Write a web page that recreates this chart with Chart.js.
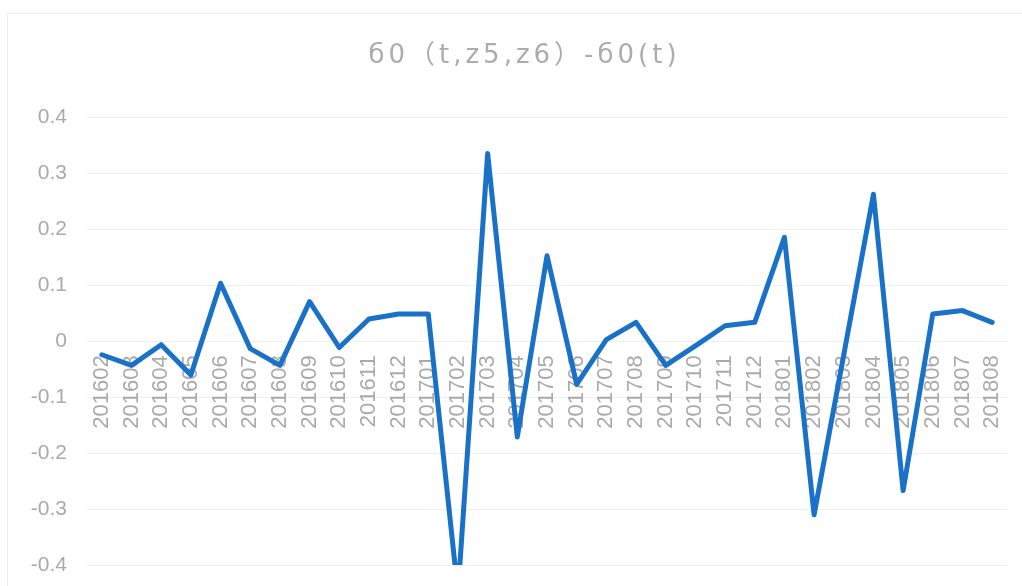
<!DOCTYPE html>
<html>
<head>
<meta charset="utf-8">
<script src="https://cdn.jsdelivr.net/npm/chart.js@4/dist/chart.umd.min.js"></script>
<style>
  html, body { margin: 0; padding: 0; background: #ffffff; overflow: hidden; width: 1022px; height: 586px; }
  #box { position: absolute; left: 7px; top: 13px; width: 1030px; height: 620px; border: 1px solid #ececec; background: #fff; }
  #c { display: block; }
</style>
</head>
<body>
<div id="box"><canvas id="c" width="1030" height="620"></canvas></div>
<script>
const titleText = "б0（t,z5,z6）-б0(t)";
const categories = [
  "201602","201603","201604","201605","201606","201607","201608","201609","201610","201611","201612",
  "201701","201702","201703","201704","201705","201706","201707","201708","201709","201710","201711","201712",
  "201801","201802","201803","201804","201805","201806","201807","201808"
];
const seriesValues = [
  -0.024, -0.043, -0.006, -0.060, 0.104, -0.013, -0.043, 0.071, -0.011, 0.040, 0.049,
  0.049, -0.45, 0.336, -0.171, 0.153, -0.077, 0.003, 0.034, -0.043, -0.008, 0.028, 0.034,
  0.186, -0.310, -0.024, 0.263, -0.267, 0.049, 0.055, 0.034
];
const yMin = -0.4, yMax = 0.4, yStep = 0.1;

const textColor = "#aaaaaa";
const gridColor = "#efefef";
const lineColor = "#1a72c8";

// wide letter spacing and a small horizontal shift so the title matches the reference's wide, box-centred title
const titleStyle = {
  id: "titleStyle",
  beforeDraw(chart) {
    const tb = chart.titleBlock;
    if (tb && !tb._styled) {
      const orig = tb.draw;
      tb.draw = function () {
        const ctx = this.ctx;
        ctx.save();
        ctx.letterSpacing = "4px";
        ctx.translate(7.5, 0);
        orig.apply(this, arguments);
        ctx.restore();
      };
      tb._styled = true;
    }
  }
};

new Chart(document.getElementById("c"), {
  type: "line",
  data: {
    labels: categories,
    datasets: [{
      data: seriesValues,
      borderColor: lineColor,
      borderWidth: 5,
      pointRadius: 0,
      pointHoverRadius: 0,
      tension: 0,
      fill: false,
      borderJoinStyle: "round",
      borderCapStyle: "round"
    }]
  },
  plugins: [titleStyle],
  options: {
    responsive: false,
    animation: false,
    layout: { padding: { left: 19, right: 31, top: 0, bottom: 69 } },
    plugins: {
      legend: { display: false },
      tooltip: { enabled: false },
      title: {
        display: true,
        text: titleText,
        color: "#acacac",
        font: { family: "'DejaVu Sans', 'Noto Sans CJK SC', sans-serif", size: 26, weight: "normal", lineHeight: 1.2 },
        padding: { top: 27, bottom: 45.5 }
      }
    },
    scales: {
      x: {
        position: { y: 0 },
        offset: true,
        grid: { display: false, drawTicks: false },
        border: { display: false },
        ticks: {
          autoSkip: false,
          minRotation: 90,
          maxRotation: 90,
          padding: 14,
          color: textColor,
          font: { family: "'Liberation Sans', Arial, sans-serif", size: 22 }
        }
      },
      y: {
        min: yMin,
        max: yMax,
        afterFit: (s) => { s.width = 60; },
        grid: { color: gridColor, lineWidth: 1, drawTicks: false },
        border: { display: false },
        ticks: {
          stepSize: yStep,
          padding: 20,
          color: textColor,
          font: { family: "'Liberation Sans', Arial, sans-serif", size: 21 }
        }
      }
    }
  }
});
</script>
</body>
</html>
